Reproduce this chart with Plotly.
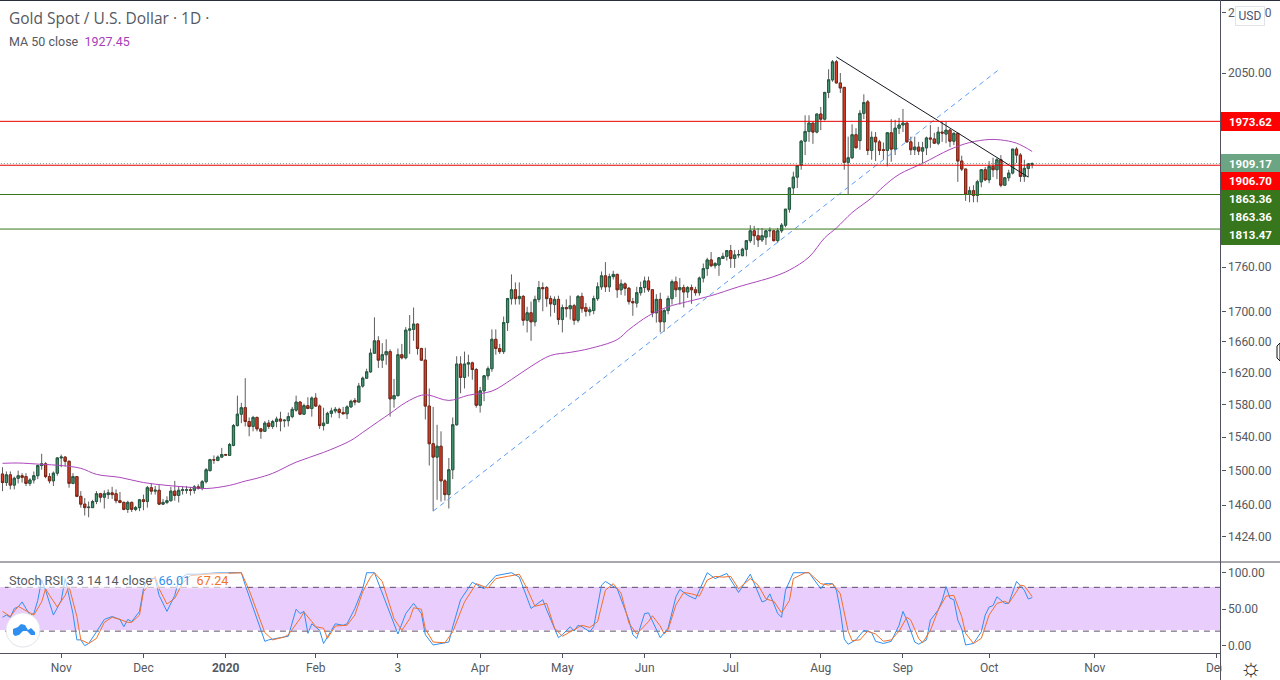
import plotly.graph_objects as go

opens = [1496,1486,1495,1483,1491,1494,1493,1485,1489,1494,
1506,1508,1493,1488,1497,1515,1516,1511,1485,1493,
1470,1461,1457,1457,1464,1473,1469,1472,1474,1473,
1465,1463,1455,1463,1455,1457,1466,1464,1480,1476,
1477,1461,1463,1465,1476,1471,1477,1477,1477.5,1477,
1481,1479,1487,1500,1513,1512,1516,1519,1518,1530,
1554,1568,1576,1559,1553,1564,1550,1547,1557,1553,
1559,1562,1560,1560,1565,1573,1583,1568,1578.5,1575,
1588,1578,1554,1557,1569,1572,1574,1570,1568.5,1577,
1585,1583,1603,1613,1621,1645,1661,1636,1643,1647,
1587,1591,1643,1639,1675,1676,1683,1651,1636,1578,
1532,1516,1529,1488,1472,1501,1555,1631,1614,1631,
1632.5,1624,1579,1597,1616,1625,1663,1651,1647,1685,
1717,1729,1717,1720,1688,1698,1686,1716,1732,1732,
1717,1709,1716,1689,1705,1703.5,1707.5,1688,1720,1705,
1699.5,1701,1717,1733,1748,1733,1747,1750,1729,1737,
1731,1713,1711,1725,1732,1741,1729,1698,1716,1686,
1701,1717,1740,1729,1732,1726,1732,1729,1725,1745,
1758,1770,1762,1763,1772,1775,1783,1772,1777,1776,
1785,1797,1811,1804,1798,1802,1811,1811,1797,1811,
1819,1842,1873,1889,1907,1943,1958,1971,1957,1985,
1977,2019,2039,2068,2034,2027,1911,1918,1953,1944,
1986,2004,1929,1949,1942,1930,1929,1956,1931,1963,
1968,1971,1942,1930,1934,1928,1933,1948,1946.5,1940,
1957,1954,1960,1943,1955,1913,1901,1864,1869,1862,
1882,1900,1885,1905,1900,1915,1877,1888,1895,1931,
1922,1890,1902,1908]

highs = [1504,1499,1499,1493,1500,1497,1497,1491,1499,1507,
1520,1510,1497,1499,1516,1519,1517,1512,1497,1493,
1476,1468,1464,1466,1476,1474,1477,1478,1481,1478,
1475,1464,1465,1464,1459,1467,1472,1482,1485,1482,
1483,1467,1470,1481,1488,1482,1482,1482,1481,1483,
1484,1489,1503,1514,1518,1518,1527,1520,1533,1556,
1591,1582,1613,1564,1566,1565,1551,1559.5,1561,1561,
1565,1571,1562,1570,1577,1591,1584,1581,1589,1590,
1594,1580,1576,1571,1576,1577,1576,1577,1579,1586,
1588,1607,1615,1625,1651,1692,1667,1658,1663,1650,
1612,1651,1657,1679,1695,1705,1684,1652,1652,1600,
1577,1555,1547,1490,1515,1564,1641,1641,1647,1643,
1634,1626,1602,1617,1628,1676,1676,1657,1693,1718,
1750,1739,1739,1722,1706,1713,1721,1741,1739,1734,
1721,1720,1721,1709,1716,1721,1710,1722,1725,1711,
1706,1721,1739,1754,1767,1751,1755,1751,1743,1739,
1733,1718,1733,1740,1747,1747,1730,1723,1725,1703,
1721,1743,1747,1745,1736,1734,1736,1733,1747,1765,
1773,1781,1767,1774,1780,1783,1791,1784,1784,1787,
1798,1819,1818,1815,1815,1812,1816,1811.5,1815,1822,
1842,1873,1897,1906,1945,1983,1983,1971,1985,1996,
2019,2056,2071,2071,2050,2027,1950,1969,1963,1991,
2016,2007,1958,1957,1945,1941,1956,1977,1976,1979,
1993,1971,1950,1950,1942,1942,1950,1968,1956,1965,
1973,1973,1962,1957,1955.5,1921,1901.5,1875,1877,1885,
1901,1904,1913,1918,1918,1922,1889,1900,1931,1934,
1925,1915,1910,1911]

lows = [1476,1482,1478,1478,1485,1486,1482,1482,1485,1490,
1501,1491,1485,1482,1494,1504,1505,1480,1484,1469,
1457,1448,1446,1457,1461,1463,1456,1467,1467,1462,
1462,1454,1451,1452,1453,1453,1454,1457,1472,1472,
1460,1460,1461,1464,1465,1463,1472,1473,1471,1473,
1478,1477,1485,1499,1508,1511,1515,1518,1518,1529,
1553,1557,1553,1541,1547,1547,1538,1547,1550,1550,
1552,1547,1552,1553,1563,1571,1567,1567.5,1574,1565,
1577,1550,1548,1556,1564,1569,1563,1568,1562,1576,
1579,1583,1601,1612,1620,1644,1626,1626,1630,1565,
1576,1590,1637,1637,1644,1661,1643,1635,1561.5,1506,
1453,1466,1464,1465,1456,1490,1554,1594,1600,1615,
1611,1576,1570,1584,1611,1621,1643,1644,1644,1674,
1709,1709,1709,1681,1672,1661,1680,1712,1700,1706,
1693,1698,1682,1672,1692,1689,1682,1685,1698,1693,
1694,1696,1714,1729,1726,1726,1743,1718,1722,1721,
1709,1694,1705,1721,1725,1726,1692,1685,1672,1673,
1696,1709,1719,1709,1705,1718,1710,1721,1721,1739,
1748,1760,1758,1748,1772,1769,1759,1759,1773,1775,
1775,1794,1791,1788,1795,1791,1802,1796,1794,1808,
1816,1837,1864,1873,1900,1922,1942,1939,1955,1960,
1975,2010,2036,2034,2018,1900,1863,1916,1933,1930,
1977,1922,1915,1913,1922,1915,1905,1912,1922,1954,
1957,1941,1922,1922,1922,1908,1922,1933,1939,1937,
1942,1940,1934,1937,1882,1898,1854,1852,1852,1852,
1874,1883,1880,1889,1886,1874,1876,1883,1893,1910,
1882,1882,1889,1902]

closes = [1486,1495,1483,1491,1494,1492,1485,1489,1494,1506,
1508,1493,1488,1497,1515,1516,1511,1485,1493,1470,
1461,1457,1457.5,1464,1473,1469,1473,1474,1472,1465,
1463,1455,1463,1455,1457,1466,1464,1480,1476,1477,
1461,1463,1465,1476,1471,1477,1477.5,1477.5,1477,1481,
1479,1487,1501,1513,1512.5,1516,1519,1518.5,1531,1554,
1568,1576,1559,1553,1564,1550,1547,1557,1553,1559,
1562,1559.5,1560.5,1565,1574,1583,1568,1578.5,1575,1588,
1578,1554,1557,1569,1572,1574,1570,1568.5,1577,1584,
1583,1603,1613,1621,1645,1661,1636,1643,1647,1587,
1591,1643,1639,1675,1676.5,1683,1651,1636,1578,1532,
1516,1529,1488,1472,1501,1555,1631,1614,1631,1632.5,
1624,1579,1597,1616,1625,1663,1651,1647,1685,1717,
1729,1717,1720,1688,1698,1686,1716,1732,1730.5,1717,
1710,1716,1689,1705,1703.5,1707.5,1688,1720,1703.5,1700,
1702,1717,1733,1748,1733,1747,1750,1729,1737,1731,
1713,1711.5,1725,1732,1741,1729,1698,1716,1686,1701,
1717,1740,1729,1732,1726,1732,1729,1725,1745,1758,
1770,1762,1765,1773,1775,1783,1772,1777,1777.5,1785,
1797,1811,1804,1798,1804,1811,1811.5,1797,1811,1819,
1842,1873,1889,1906,1943,1958,1971,1957,1985,1977,
2019,2039,2068,2034,2026,1911,1918,1953,1933,1986,
2003,1929,1949,1942,1929,1929,1956,1931,1963,1968,
1971,1942,1930,1934,1928,1933,1948,1946.5,1940,1957,
1955.5,1960,1943,1955,1913,1901,1864,1869,1862,1882,
1900,1885,1905,1900,1915,1877,1888,1895,1931,1922,
1890,1902,1909,1909.17]

ma_bars = [0,4,10,15,20,24,30,36,42,48,52,58,62,65,69,75,82,89,92,96,99,103,107,109,114,119,125,130,135,140,145,150,157,160,165,170,175,181,188,197,201,206,210,213,217,222,225,229,235,242,247,252,255,259,263]
ma_vals = [1508.6,1509,1507.4,1506,1502.7,1495.6,1492,1486,1482.7,1480.4,1479,1482.7,1487.7,1491,1496.8,1510,1521.6,1536,1545.7,1559,1568.9,1582.5,1591.5,1591.5,1585,1591.5,1596.7,1611.3,1628,1642,1646,1651,1662.6,1675.7,1694,1706,1713,1721,1733,1747,1756,1774,1801,1815,1837,1858.5,1875,1893,1909.5,1930.5,1941,1945.6,1945,1940,1927.45]

k_bars = [0,1,2,3,4,5,6,7,8,9,10,11,13,15,16,18,19,20,21,22,24,26,28,30,31,32,33,35,36,37,39,40,42,44,45,47,50,55,61,62,67,68,72,73,75,76,77,78,79,81,82,85,87,88,90,92,93,95,101,103,105,107,108,110,114,115,117,120,123,126,130,132,135,138,139,142,143,145,146,147,148,150,151,153,154,157,160,161,162,164,165,168,170,172,173,175,177,180,182,185,188,191,194,195,196,198,199,200,202,206,209,210,212,213,214,215,216,218,220,222,223,225,227,229,230,231,233,234,236,237,239,240,241,242,243,244,245,246,248,250,251,252,253,254,256,257,259,261,262,263]
k_vals = [39,42,39,51,53,60,51,42,44,62,90,76,42,62,92,44,8,8,0,3,19,36,40,36,26,36,33,47,78,92,92,69,47,69,90,98,98,100,100,83,6,8,12,13,50,44,47,17,30,21,3,30,28,30,51,78,100,100,16,44,58,44,15,1,5,26,63,87,78,96,100,94,51,63,49,11,15,26,20,28,26,19,26,83,88,78,35,15,10,44,45,11,24,67,77,69,64,100,92,99,73,98,60,62,71,44,39,76,100,100,78,85,85,76,48,9,2,8,21,18,6,3,6,28,47,35,5,2,8,35,49,62,81,65,63,35,23,1,3,19,42,53,55,67,58,58,88,76,64,66.01]

d_bars = [0,2,4,8,10,11,12,14,16,17,19,20,22,24,26,28,30,32,33,35,36,39,40,42,44,46,48,52,61,63,67,69,72,73,76,77,79,80,82,83,85,88,90,92,94,95,97,100,102,104,105,107,108,110,113,115,118,121,124,126,129,132,134,136,139,141,143,145,147,148,150,152,154,156,158,160,162,165,166,168,169,170,172,174,176,178,180,182,184,186,188,191,193,195,197,199,201,202,205,206,209,211,212,214,216,217,219,221,223,225,227,229,231,232,234,235,237,239,241,243,245,246,248,250,252,254,256,257,259,260,261,263]
d_vals = [47,40,54,42,60,78,69,53,69,81,40,8,3,10,32,39,36,32,32,42,74,95,78,57,65,86,96,98,100,76,18,8,12,15,37,46,33,26,24,10,27,28,42,74,94,100,88,37,21,37,52,50,23,5,4,19,60,85,79,92,95,98,78,54,58,24,13,19,25,28,25,33,76,85,72,31,16,33,41,27,16,22,56,73,71,68,90,95,94,95,78,92,83,64,61,45,62,92,100,100,85,83,85,71,20,7,8,20,16,6,8,20,39,35,10,4,21,49,68,69,40,17,3,10,42,58,61,58,74,83,82,67.24]

level_vals = [1973.62, 1906.70, 1863.36, 1813.47]
level_cols = ["#e80000", "#e80000", "#38761d", "#38761d"]
last_price = 1909.17
down_line_bars = [213, 262]
down_line_vals = [2076, 1889]
up_line_bars = [110, 255]
up_line_vals = [1453, 2058]
month_bars = [15, 36, 57, 80, 101, 122, 143, 164, 186, 209, 230, 252, 279, 310]
month_text = ["Nov", "Dec", "<b>2020</b>", "Feb", "3", "Apr", "May", "Jun", "Jul", "Aug", "Sep", "Oct", "Nov", "Dec"]
price_ticks = [2150, 2050, 1760, 1700, 1660, 1620, 1580, 1540, 1500, 1460, 1424]
stoch_ticks = [100, 50, 0]

assert len(opens) == len(highs) == len(lows) == len(closes) == 264, (len(opens), len(highs), len(lows), len(closes))
assert len(k_bars) == len(k_vals) and len(d_bars) == len(d_vals), (len(k_bars), len(k_vals), len(d_bars), len(d_vals))
assert len(ma_bars) == len(ma_vals)

bars = list(range(len(opens)))
W, H = 1280, 680
FONT = "Roboto"
TXT = "#555961"


def px(v):
    return v / W


def py(v):
    return 1 - v / H


fig = go.Figure()
# wicks
fig.add_trace(go.Candlestick(
    x=bars, open=opens, high=highs, low=lows, close=closes, xaxis="x", yaxis="y",
    increasing=dict(line=dict(color="#5e5e5e", width=1), fillcolor="#5e5e5e"),
    decreasing=dict(line=dict(color="#5e5e5e", width=1), fillcolor="#5e5e5e"),
    showlegend=False, hoverinfo="skip"))
# bodies
fig.add_trace(go.Candlestick(
    x=bars, open=opens, close=closes,
    high=[max(o, c) for o, c in zip(opens, closes)],
    low=[min(o, c) for o, c in zip(opens, closes)],
    xaxis="x", yaxis="y",
    increasing=dict(line=dict(color="#245c43", width=1), fillcolor="#459873"),
    decreasing=dict(line=dict(color="#7e2615", width=1), fillcolor="#e0402c"),
    showlegend=False, hoverinfo="skip"))


def line(x, y, color, width=1, dash=None, xa="x", ya="y", shape="linear"):
    fig.add_trace(go.Scatter(x=x, y=y, mode="lines", xaxis=xa, yaxis=ya, showlegend=False,
                             hoverinfo="skip", line=dict(color=color, width=width, dash=dash, shape=shape)))


line(ma_bars, ma_vals, "#ab47bc", 1, shape="spline")
line([-5, 320], [last_price, last_price], "#6ba583", 1, "1px,2px")
line(up_line_bars, up_line_vals, "#5b9cf6", 1, "5px,4px")
line(down_line_bars, down_line_vals, "#131722", 1)

# stoch pane
line([-5, 320], [80, 80], "#5d4b6b", 1, "6px,5px", "x2", "y2")
line([-5, 320], [20, 20], "#5d4b6b", 1, "6px,5px", "x2", "y2")
line(k_bars, k_vals, "#2f8ff0", 1, None, "x2", "y2")
line(d_bars, d_vals, "#f2702a", 1, None, "x2", "y2")

shapes = [
    dict(type="rect", xref="paper", yref="paper", x0=0, x1=px(1220.5), y0=py(630), y1=py(587),
         fillcolor="#e9cdfd", line_width=0, layer="below"),
    dict(type="line", xref="paper", yref="paper", x0=0, x1=1, y0=py(0.5), y1=py(0.5),
         line=dict(color="#2a2e39", width=1)),
    dict(type="line", xref="paper", yref="paper", x0=0, x1=1, y0=py(562), y1=py(562),
         line=dict(color="#50535e", width=1)),
    dict(type="line", xref="paper", yref="paper", x0=px(1220.5), x1=px(1220.5), y0=0, y1=1,
         line=dict(color="#50535e", width=1)),
]
# horizontal levels, placed through the price axis
for v, c in zip(level_vals, level_cols):
    shapes.append(dict(type="line", xref="paper", yref="y", x0=0, x1=px(1220.5), y0=v, y1=v,
                       line=dict(color=c, width=1), layer="above"))
# price labels
for y0, y1, col in [(112, 131, "#ff0000"), (154, 172, "#6ba583"), (172, 190, "#ff0000"), (190, 245, "#38761d")]:
    shapes.append(dict(type="rect", xref="paper", yref="paper", x0=px(1221), x1=1, y0=py(y1), y1=py(y0),
                       fillcolor=col, line_width=0, layer="above"))
# logo badge
shapes.append(dict(type="circle", xref="paper", yref="paper", x0=px(6), x1=px(40), y0=py(647), y1=py(613),
                   fillcolor="#ffffff", line=dict(color="#e0e3eb", width=1), layer="above"))
cloud = [(13, 634), (13, 629), (18, 627), (21, 624), (25, 625), (28, 630), (31, 628), (35, 632), (35, 635),
         (31, 635), (27, 631), (23, 631), (19, 635), (15, 636)]
path = "M" + " L".join(f"{px(a):.5f} {py(b):.5f}" for a, b in cloud) + " Z"
shapes.append(dict(type="path", xref="paper", yref="paper", path=path, fillcolor="#2e8ff0", line_width=0, layer="above"))
# page cursor sliver
shapes.append(dict(type="path", xref="paper", yref="paper",
                   path=f"M{px(1277):.5f} {py(346):.5f} L{px(1280):.5f} {py(343):.5f} L{px(1280):.5f} {py(361):.5f} L{px(1277):.5f} {py(358):.5f} Z",
                   fillcolor="#ffffff", line=dict(color="#111111", width=1), layer="above"))


def note(x, y, text, size=12, color=TXT, xanchor="left", family=FONT, **kw):
    return dict(xref="paper", yref="paper", x=px(x), y=py(y), text=text, showarrow=False, xanchor=xanchor,
                yanchor="middle", font=dict(family=family, size=size, color=color), borderpad=0, **kw)


annotations = [
    note(8, 18, "Gold Spot / U.S. Dollar · 1D ·", 15.5, family="Open Sans"),
    note(8, 41, 'MA 50 close  <span style="color:#a63db8">1927.45</span>', 12.5),
    note(8, 580, 'Stoch RSI 3 3 14 14 close  <span style="color:#2f8ff0">66.01</span>  '
                 '<span style="color:#f2702a">67.24</span>', 12.7, bgcolor="rgba(255,255,255,0.6)"),
    note(1250.5, 666.5, "☼", 25, "#131722", "center", bgcolor="#ffffff", height=26, width=58),
    note(1250, 16, "USD", 12, "#4a5470", "center", bgcolor="#ffffff", bordercolor="#e0e3eb", borderwidth=1,
         width=28, height=18),
]
for y, label in [(121.5, "1973.62"), (163.5, "1909.17"), (181, "1906.70"), (199, "1863.36"), (217, "1863.36"), (235, "1813.47")]:
    annotations.append(note(1250, y, f"<b>{label}</b>", 11.5, "#ffffff", "center"))

fig.update_layout(
    width=W, height=H, margin=dict(l=0, r=0, t=0, b=0, autoexpand=False), paper_bgcolor="#ffffff",
    plot_bgcolor="rgba(0,0,0,0)",
    showlegend=False, boxgap=0.2, shapes=shapes, annotations=annotations,
    font=dict(family=FONT, size=12, color=TXT),
    xaxis=dict(domain=[0, 1220.5 / W], range=[-0.64, 311.1], anchor="y", showgrid=False, zeroline=False,
               showticklabels=False, ticks="", rangeslider=dict(visible=False), fixedrange=True, automargin=False),
    yaxis=dict(domain=[py(562), py(1)], type="log", range=[3.14491, 3.33632], side="right", anchor="x",
               showgrid=False, zeroline=False, tickmode="array", tickvals=price_ticks, automargin=False,
               ticktext=[f"{v:.2f}" for v in price_ticks], ticks="outside", ticklen=4, tickcolor="#50535e",
               tickfont=dict(family=FONT, size=12, color=TXT), fixedrange=True),
    xaxis2=dict(domain=[0, 1220.5 / W], range=[-0.64, 311.1], anchor="y2", showgrid=False, zeroline=False,
                tickmode="array", tickvals=month_bars, ticktext=month_text, ticks="outside", ticklen=4,
                tickcolor="#50535e", showline=True, linecolor="#50535e", linewidth=1, tickangle=0, automargin=False,
                tickfont=dict(family=FONT, size=12, color=TXT), fixedrange=True),
    yaxis2=dict(domain=[py(653), py(562)], range=[-10, 114.7], side="right", anchor="x2", showgrid=False,
                zeroline=False, tickmode="array", tickvals=stoch_ticks, automargin=False,
                ticktext=[f"{v:.2f}" for v in stoch_ticks], ticks="outside", ticklen=4, tickcolor="#50535e",
                tickfont=dict(family=FONT, size=12, color=TXT), fixedrange=True),
)

fig.write_html("out.html", config=dict(displayModeBar=False, responsive=False),
               default_width="1280px", default_height="680px",
               post_script="document.body.style.margin='0';document.documentElement.style.overflow='hidden';")
